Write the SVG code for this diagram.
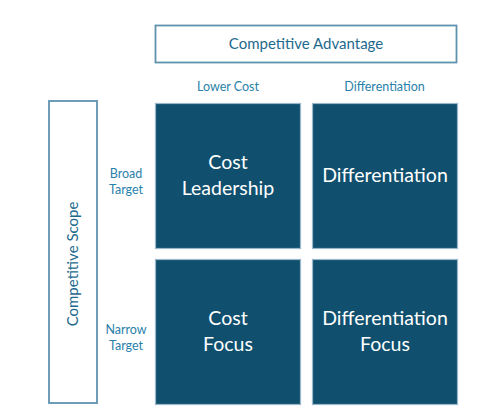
<svg xmlns="http://www.w3.org/2000/svg" width="504" height="420" viewBox="0 0 504 420">
<style>
.outline{fill:#ffffff;stroke:#5e93b0;stroke-width:1.8}
.tile{fill:#10506e;stroke:#9ab8c9;stroke-width:1.2}
.lbl{font-family:Lato,"Liberation Sans",sans-serif;fill:#2a7fab;text-anchor:middle}
.head{font-family:Lato,"Liberation Sans",sans-serif;fill:#1d6a8e;text-anchor:middle;font-size:15px}
.tt{font-family:Lato,"Liberation Sans",sans-serif;fill:#ffffff;text-anchor:middle;font-size:19.5px}
</style>
<rect width="504" height="420" fill="#ffffff"/>
<g id="competitive-advantage">
<rect class="outline" x="155.5" y="25.5" width="301" height="37"/>
<text class="head" x="306" y="49">Competitive Advantage</text>
</g>
<g id="competitive-scope">
<rect class="outline" x="49" y="101" width="48" height="302"/>
<text class="head" transform="translate(78,264) rotate(-90)" x="0" y="0">Competitive Scope</text>
</g>
<g id="col-labels">
<text class="lbl" x="228" y="91" font-size="12.5">Lower Cost</text>
<text class="lbl" x="384.5" y="91" font-size="12.5">Differentiation</text>
</g>
<g id="row-labels">
<text class="lbl" x="126" y="178" font-size="12.5">Broad</text>
<text class="lbl" x="126" y="193.5" font-size="12.5">Target</text>
<text class="lbl" x="126" y="334" font-size="12.5">Narrow</text>
<text class="lbl" x="126" y="350" font-size="12.5">Target</text>
</g>
<g id="cost-leadership">
<rect class="tile" x="155.5" y="103.5" width="145" height="145"/>
<text class="tt" x="228" y="169">Cost</text>
<text class="tt" x="228" y="194.5">Leadership</text>
</g>
<g id="differentiation">
<rect class="tile" x="312.5" y="103.5" width="145" height="145"/>
<text class="tt" x="385" y="182">Differentiation</text>
</g>
<g id="cost-focus">
<rect class="tile" x="155.5" y="259.5" width="145" height="145"/>
<text class="tt" x="228" y="325">Cost</text>
<text class="tt" x="228" y="350.5">Focus</text>
</g>
<g id="differentiation-focus">
<rect class="tile" x="312.5" y="259.5" width="145" height="145"/>
<text class="tt" x="385" y="325">Differentiation</text>
<text class="tt" x="385" y="350.5">Focus</text>
</g>
<g id="connectors"></g>
</svg>
